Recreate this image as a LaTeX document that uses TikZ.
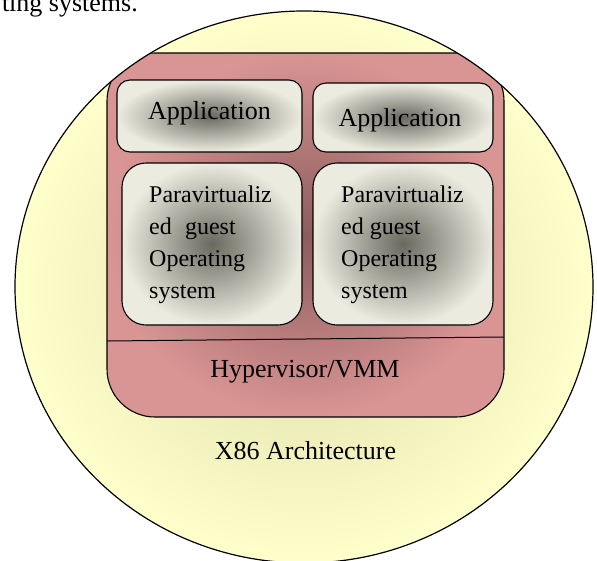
\documentclass[tikz,border=0pt]{standalone}
\usepackage{fontspec}
\setmainfont{Liberation Serif}
\definecolor{yelout}{RGB}{255,255,204}
\definecolor{yelin}{RGB}{220,220,168}
\definecolor{redout}{RGB}{217,149,148}
\definecolor{redin}{RGB}{140,92,92}
\definecolor{gout}{RGB}{236,235,224}
\definecolor{gin}{RGB}{105,105,95}
\begin{document}
\begin{tikzpicture}[x=1pt,y=-1pt,
  outline/.style={draw=black, line width=1.1pt},
  vmmbox/.style={outline, rectangle, rounded corners=48pt, inner sep=0pt,
    shading=radial, inner color=redin, outer color=redout},
  guestbox/.style={outline, rectangle, inner sep=0pt,
    shading=radial, inner color=gin, outer color=gout},
  lbl/.style={font=\fontsize{26}{30}\selectfont, inner sep=0pt, anchor=base},
  paratext/.style={font=\fontsize{24}{32}\selectfont, inner sep=0pt, anchor=base west}
]
\useasboundingbox (0,0) rectangle (597,560);
\clip (0,0) rectangle (597,560);

% outer ellipse (X86 architecture)
\path[shading=radial, inner color=yelin, outer color=yelout]
  (304,287) ellipse [x radius=289, y radius=276];

\begin{scope}
  \clip (304,287) ellipse [x radius=289, y radius=276];
  \node[vmmbox, minimum width=397pt, minimum height=364pt] (vmm) at (305.5,235) {};
  \node[guestbox, rounded corners=13pt, minimum width=185pt, minimum height=72pt] (app1) at (209.5,116) {};
  \node[guestbox, rounded corners=13pt, minimum width=180pt, minimum height=69pt] (app2) at (403,117.5) {};
  \node[guestbox, rounded corners=24pt, minimum width=180pt, minimum height=162pt] (os1) at (212,244) {};
  \node[guestbox, rounded corners=24pt, minimum width=180pt, minimum height=162pt] (os2) at (403,244) {};
\end{scope}

\coordinate (dl) at (107,341);
\coordinate (dr) at (504,337);
\draw[line width=1pt] (dl) -- (dr);

\draw[line width=1.2pt] (304,287) ellipse [x radius=289, y radius=276];

\node[lbl] (tapp1) at (209.5,119) {Application};
\node[lbl] (tapp2) at (400,126) {Application};
\node[paratext] (tos1) at (149,202) {\begin{tabular}[t]{@{}l@{}}Paravirtualiz\\ed\hspace{0.55em}guest\\Operating\\system\end{tabular}};
\node[paratext] (tos2) at (341,202) {\begin{tabular}[t]{@{}l@{}}Paravirtualiz\\ed guest\\Operating\\system\end{tabular}};
\node[lbl] (thyp) at (305,377) {Hypervisor/VMM};
\node[lbl] (tx86) at (305.5,459) {X86 Architecture};
\node[lbl, anchor=base east] (tcap) at (138,11) {ting systems.};
\end{tikzpicture}
\end{document}
